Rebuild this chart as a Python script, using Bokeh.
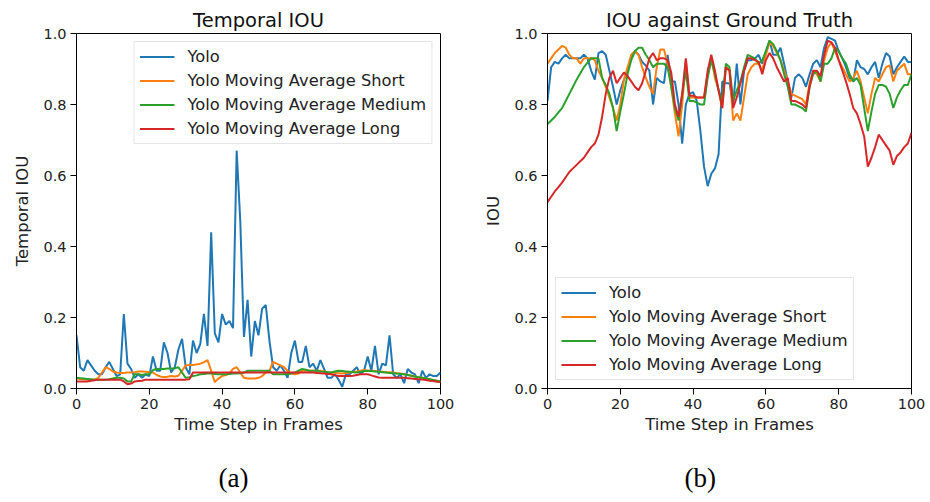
from bokeh.plotting import figure
from bokeh.layouts import row
from bokeh.models import Range1d, Legend, LegendItem, Title, FixedTicker, NumeralTickFormatter
from bokeh.embed import file_html
from bokeh.resources import INLINE

frames = list(range(101))

# ---- (a) Temporal IOU ----
temporal_yolo = [0.15, 0.06, 0.05, 0.08, 0.065, 0.05, 0.04, 0.04, 0.06, 0.075,
                 0.055, 0.035, 0.04, 0.21, 0.07, 0.055, 0.03, 0.04, 0.03, 0.04,
                 0.035, 0.09, 0.05, 0.05, 0.13, 0.10, 0.045, 0.06, 0.11, 0.14,
                 0.06, 0.04, 0.135, 0.10, 0.125, 0.21, 0.12, 0.44, 0.155, 0.13,
                 0.21, 0.18, 0.19, 0.17, 0.67, 0.47, 0.145, 0.25, 0.09, 0.19,
                 0.15, 0.225, 0.235, 0.135, 0.06, 0.05, 0.065, 0.05, 0.03, 0.10,
                 0.135, 0.075, 0.075, 0.12, 0.06, 0.07, 0.05, 0.08, 0.055, 0.03,
                 0.03, 0.04, 0.025, 0.005, 0.04, 0.04, 0.05, 0.06, 0.04, 0.05,
                 0.09, 0.05, 0.12, 0.04, 0.07, 0.065, 0.15, 0.04, 0.03, 0.04,
                 0.015, 0.055, 0.045, 0.04, 0.015, 0.05, 0.03, 0.04, 0.035, 0.035,
                 0.045]
temporal_short = [0.028, 0.027, 0.026, 0.025, 0.025, 0.025, 0.03, 0.045, 0.06, 0.055,
                  0.048, 0.045, 0.044, 0.044, 0.045, 0.045, 0.046, 0.048, 0.048, 0.047,
                  0.046, 0.045, 0.038, 0.034, 0.032, 0.033, 0.035, 0.034, 0.036, 0.05,
                  0.065, 0.066, 0.066, 0.068, 0.07, 0.074, 0.08, 0.05, 0.018, 0.028,
                  0.035, 0.038, 0.042, 0.055, 0.06, 0.045, 0.03, 0.028, 0.028, 0.028,
                  0.03, 0.035, 0.045, 0.05, 0.075, 0.07, 0.065, 0.06, 0.05, 0.042,
                  0.04, 0.042, 0.05, 0.05, 0.05, 0.05, 0.05, 0.05, 0.048, 0.046,
                  0.045, 0.044, 0.043, 0.042, 0.044, 0.045, 0.047, 0.048, 0.05, 0.052,
                  0.05, 0.05, 0.049, 0.048, 0.047, 0.046, 0.046, 0.045, 0.043, 0.042,
                  0.04, 0.038, 0.036, 0.034, 0.032, 0.03, 0.028, 0.026, 0.024, 0.022,
                  0.02]
temporal_medium = [0.03, 0.029, 0.028, 0.027, 0.026, 0.025, 0.025, 0.025, 0.025, 0.026,
                   0.028, 0.03, 0.03, 0.028, 0.02, 0.02, 0.04, 0.04, 0.038, 0.04,
                   0.04, 0.052, 0.055, 0.055, 0.055, 0.056, 0.056, 0.057, 0.06, 0.045,
                   0.03, 0.032, 0.035, 0.037, 0.04, 0.041, 0.042, 0.042, 0.041, 0.04,
                   0.04, 0.04, 0.041, 0.042, 0.042, 0.043, 0.045, 0.05, 0.05, 0.05,
                   0.05, 0.05, 0.05, 0.05, 0.04, 0.04, 0.04, 0.04, 0.04, 0.042,
                   0.045, 0.05, 0.055, 0.053, 0.05, 0.05, 0.05, 0.048, 0.047, 0.046,
                   0.045, 0.048, 0.05, 0.049, 0.048, 0.047, 0.046, 0.045, 0.047, 0.049,
                   0.05, 0.049, 0.048, 0.047, 0.046, 0.045, 0.044, 0.043, 0.042, 0.041,
                   0.04, 0.038, 0.036, 0.034, 0.032, 0.03, 0.028, 0.026, 0.024, 0.022,
                   0.02]
temporal_long = [0.02, 0.02, 0.02, 0.02, 0.022, 0.023, 0.025, 0.025, 0.025, 0.025,
                 0.025, 0.025, 0.025, 0.02, 0.012, 0.014, 0.02, 0.021, 0.022, 0.025,
                 0.025, 0.025, 0.025, 0.025, 0.025, 0.025, 0.025, 0.025, 0.025, 0.025,
                 0.025, 0.026, 0.045, 0.045, 0.045, 0.045, 0.045, 0.045, 0.045, 0.045,
                 0.045, 0.045, 0.045, 0.045, 0.045, 0.045, 0.045, 0.045, 0.045, 0.045,
                 0.045, 0.045, 0.045, 0.045, 0.045, 0.045, 0.045, 0.045, 0.045, 0.045,
                 0.045, 0.045, 0.045, 0.045, 0.045, 0.045, 0.044, 0.043, 0.042, 0.041,
                 0.04, 0.037, 0.035, 0.035, 0.035, 0.035, 0.036, 0.038, 0.04, 0.04,
                 0.04, 0.037, 0.034, 0.031, 0.03, 0.03, 0.03, 0.03, 0.03, 0.03,
                 0.03, 0.029, 0.028, 0.027, 0.026, 0.025, 0.024, 0.022, 0.021, 0.019,
                 0.018]

# ---- (b) IOU against Ground Truth ----
gt_yolo = [0.81, 0.905, 0.92, 0.915, 0.93, 0.94, 0.93, 0.93, 0.93, 0.93,
           0.94, 0.93, 0.895, 0.87, 0.945, 0.95, 0.94, 0.895, 0.85, 0.80,
           0.84, 0.87, 0.895, 0.93, 0.95, 0.94, 0.92, 0.91, 0.895, 0.80,
           0.875, 0.865, 0.86, 0.94, 0.865, 0.865, 0.80, 0.69, 0.80, 0.83,
           0.835, 0.81, 0.725, 0.625, 0.57, 0.605, 0.62, 0.66, 0.865, 0.86,
           0.86, 0.80, 0.915, 0.80, 0.895, 0.925, 0.925, 0.93, 0.94, 0.915,
           0.95, 0.98, 0.94, 0.94, 0.96, 0.915, 0.865, 0.82, 0.875, 0.885,
           0.875, 0.85, 0.885, 0.915, 0.925, 0.905, 0.96, 0.99, 0.985, 0.98,
           0.95, 0.93, 0.905, 0.875, 0.865, 0.925, 0.905, 0.90, 0.885, 0.905,
           0.92, 0.875, 0.915, 0.945, 0.935, 0.885, 0.905, 0.92, 0.935, 0.92,
           0.92]
gt_short = [0.915, 0.93, 0.945, 0.955, 0.965, 0.96, 0.94, 0.93, 0.93, 0.915,
            0.93, 0.93, 0.93, 0.925, 0.895, 0.875, 0.85, 0.82, 0.79, 0.755,
            0.80, 0.87, 0.905, 0.94, 0.95, 0.94, 0.905, 0.875, 0.85, 0.83,
            0.905, 0.955, 0.955, 0.915, 0.85, 0.775, 0.71, 0.80, 0.925, 0.82,
            0.82, 0.82, 0.82, 0.82, 0.885, 0.93, 0.875, 0.84, 0.79, 0.905,
            0.895, 0.755, 0.775, 0.755, 0.82, 0.885, 0.905, 0.915, 0.915, 0.895,
            0.94, 0.975, 0.965, 0.945, 0.925, 0.895, 0.865, 0.83, 0.825, 0.82,
            0.815, 0.80, 0.86, 0.895, 0.885, 0.865, 0.925, 0.96, 0.975, 0.95,
            0.925, 0.905, 0.885, 0.865, 0.875, 0.895, 0.865, 0.82, 0.775, 0.83,
            0.875, 0.865, 0.885, 0.905, 0.91, 0.865, 0.895, 0.905, 0.915, 0.885,
            0.885]
gt_medium = [0.745, 0.755, 0.765, 0.778, 0.79, 0.81, 0.83, 0.85, 0.87, 0.888,
             0.905, 0.918, 0.93, 0.93, 0.93, 0.875, 0.855, 0.83, 0.79, 0.725,
             0.78, 0.83, 0.885, 0.925, 0.95, 0.96, 0.96, 0.94, 0.925, 0.905,
             0.915, 0.915, 0.915, 0.905, 0.85, 0.79, 0.755, 0.83, 0.895, 0.81,
             0.81, 0.805, 0.80, 0.80, 0.875, 0.925, 0.885, 0.84, 0.81, 0.915,
             0.905, 0.81, 0.84, 0.865, 0.905, 0.94, 0.935, 0.93, 0.915, 0.925,
             0.95, 0.98, 0.97, 0.95, 0.925, 0.885, 0.85, 0.80, 0.80, 0.795,
             0.79, 0.78, 0.85, 0.885, 0.895, 0.865, 0.915, 0.915, 0.93, 0.96,
             0.95, 0.93, 0.915, 0.885, 0.865, 0.875, 0.855, 0.79, 0.725, 0.78,
             0.83, 0.855, 0.855, 0.85, 0.83, 0.79, 0.82, 0.84, 0.855, 0.855,
             0.885]
gt_long = [0.525, 0.54, 0.555, 0.567, 0.58, 0.595, 0.61, 0.62, 0.63, 0.64,
           0.65, 0.665, 0.68, 0.69, 0.715, 0.765, 0.83, 0.875, 0.895, 0.86,
           0.875, 0.89, 0.88, 0.865, 0.85, 0.84, 0.86, 0.895, 0.93, 0.945,
           0.925, 0.93, 0.93, 0.925, 0.89, 0.80, 0.765, 0.83, 0.93, 0.825,
           0.825, 0.82, 0.82, 0.82, 0.895, 0.94, 0.895, 0.84, 0.79, 0.905,
           0.895, 0.79, 0.82, 0.86, 0.895, 0.93, 0.93, 0.925, 0.92, 0.885,
           0.925, 0.945, 0.93, 0.905, 0.885, 0.865, 0.875, 0.81, 0.81, 0.805,
           0.80, 0.79, 0.85, 0.895, 0.895, 0.88, 0.94, 0.98, 0.975, 0.96,
           0.925, 0.895, 0.865, 0.83, 0.79, 0.775, 0.745, 0.71, 0.625, 0.65,
           0.68, 0.715, 0.70, 0.685, 0.67, 0.63, 0.655, 0.665, 0.68, 0.69,
           0.72]

series_names = ["Yolo", "Yolo Moving Average Short",
                "Yolo Moving Average Medium", "Yolo Moving Average Long"]
colors = ["#1f77b4", "#ff7f0e", "#2ca02c", "#d62728"]
x_ticks = [0, 20, 40, 60, 80, 100]
y_ticks = [0.0, 0.2, 0.4, 0.6, 0.8, 1.0]

FONT = "DejaVu Sans"


def make_panel(title, ylabel, series, legend_loc, caption, cap_offset,
               border_left, border_right):
    p = figure(width=border_left + 364 + border_right, height=502,
               frame_width=364, frame_height=355,
               min_border_left=border_left, min_border_right=border_right,
               min_border_top=33, min_border_bottom=114,
               x_range=Range1d(0, 100), y_range=Range1d(0, 1),
               output_backend="svg", toolbar_location=None, tools="")
    p.title.text = title
    p.title.align = "center"
    p.title.text_font = FONT
    p.title.text_font_size = "19.5px"
    p.title.text_font_style = "normal"
    p.title.text_color = "#111111"
    p.title.offset = 0
    p.title.standoff = 4
    p.grid.visible = False
    p.outline_line_color = "#000000"
    p.outline_line_alpha = 1
    p.outline_line_width = 1
    p.background_fill_color = "white"
    p.border_fill_color = "white"

    for ax in (p.xaxis[0], p.yaxis[0]):
        ax.axis_line_color = "#000000"
        ax.major_tick_line_color = "#000000"
        ax.major_tick_out = 6
        ax.major_tick_in = 0
        ax.minor_tick_line_color = None
        ax.major_label_text_font = FONT
        ax.major_label_text_font_size = "14.5px"
        ax.major_label_text_color = "#222222"
        ax.axis_label_text_font = FONT
        ax.axis_label_text_font_size = "16.5px"
        ax.axis_label_text_font_style = "normal"
        ax.axis_label_text_color = "#222222"
    p.xaxis.ticker = FixedTicker(ticks=x_ticks)
    p.yaxis.ticker = FixedTicker(ticks=y_ticks)
    p.yaxis.formatter = NumeralTickFormatter(format="0.0")
    p.xaxis.axis_label = "Time Step in Frames"
    p.yaxis.axis_label = ylabel
    p.xaxis.major_label_standoff = 4
    p.yaxis.major_label_standoff = 4
    p.xaxis.axis_label_standoff = 3
    p.yaxis.axis_label_standoff = 8

    items = []
    for name, vals, col in zip(series_names, series, colors):
        r = p.line(frames, vals, line_color=col, line_width=2)
        items.append(LegendItem(label=name, renderers=[r]))
    legend = Legend(items=items, location=legend_loc)
    legend.label_text_font = FONT
    legend.label_text_font_size = "16.3px"
    legend.label_text_color = "#222222"
    legend.glyph_width = 35
    legend.glyph_height = 19
    legend.label_height = 19
    legend.spacing = 5
    legend.padding = 5
    legend.margin = 8
    legend.label_standoff = 13
    legend.border_line_color = "#cccccc"
    legend.border_line_width = 1
    legend.background_fill_alpha = 0.85
    p.add_layout(legend)

    cap = Title(text=caption, align="left", offset=cap_offset, standoff=49,
                vertical_align="bottom",
                text_font="Liberation Serif", text_font_size="27px",
                text_font_style="normal", text_color="#000000")
    p.add_layout(cap, "below")
    return p


pa = make_panel("Temporal IOU", "Temporal IOU",
                [temporal_yolo, temporal_short, temporal_medium, temporal_long],
                "top_right", "(a)", 142, 76, 25)
pb = make_panel("IOU against Ground Truth", "IOU",
                [gt_yolo, gt_short, gt_medium, gt_long],
                "bottom_left", "(b)", 137, 82, 18)

layout = row(pa, pb)
open("out.html", "w").write(file_html(layout, INLINE))
